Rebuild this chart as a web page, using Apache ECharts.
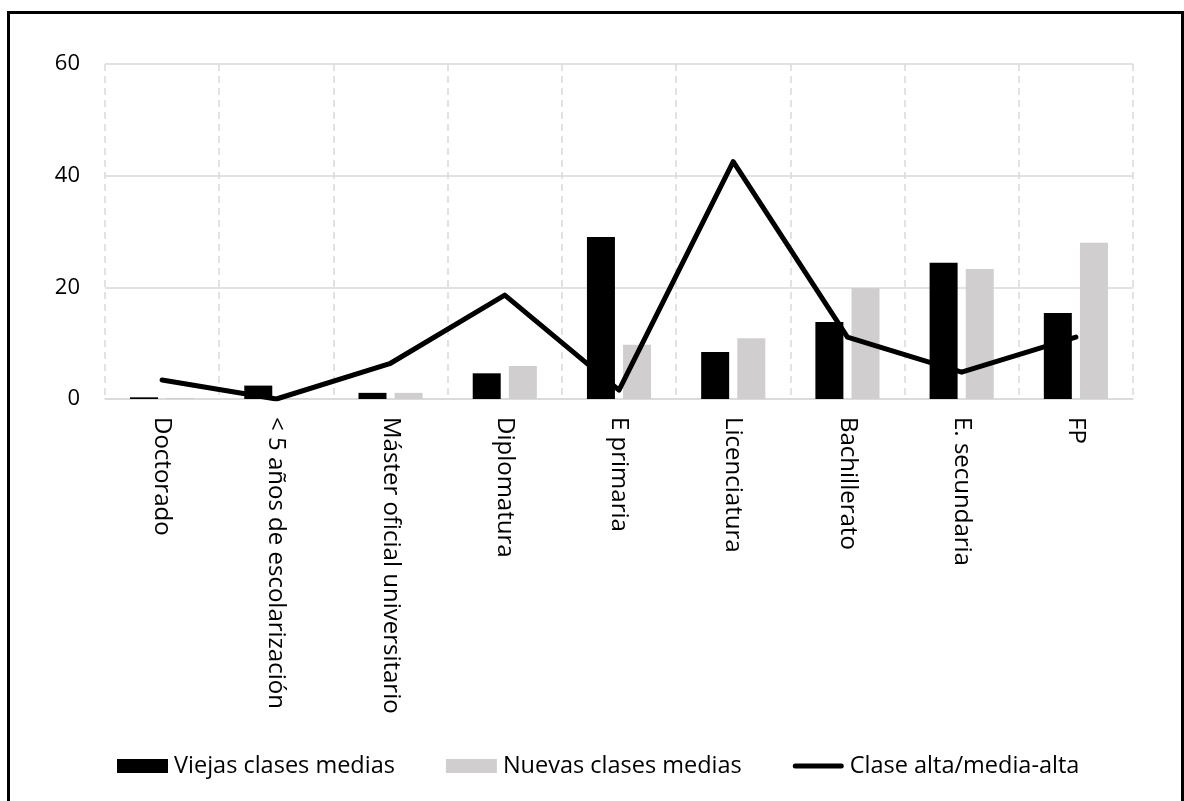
<!DOCTYPE html>
<html>
<head>
<meta charset="utf-8">
<script src="https://cdn.jsdelivr.net/npm/echarts@6/dist/echarts.min.js"></script>
<style>
html,body{margin:0;padding:0;background:#fff;}
#chart{position:absolute;left:0;top:0;width:1184px;height:801px;}
#frame{position:absolute;left:7px;top:11px;width:1171px;height:800px;border-left:3px solid #000;border-top:3px solid #000;border-right:3px solid #000;pointer-events:none;box-sizing:content-box;}
</style>
</head>
<body>
<div id="chart"></div>
<div id="frame"></div>
<script>
const categories = ['Doctorado', '< 5 años de escolarización', 'Máster oficial universitario', 'Diplomatura', 'E primaria', 'Licenciatura', 'Bachillerato', 'E. secundaria', 'FP'];
const viejas = [0.3, 2.4, 1.1, 4.6, 29.0, 8.4, 13.8, 24.4, 15.4];
const nuevas = [0.2, 0.1, 1.1, 5.9, 9.7, 10.9, 19.9, 23.3, 28.0];
const altaMedia = [3.4, 0.0, 6.4, 18.6, 1.6, 42.5, 11.1, 4.8, 11.1];
const seriesNames = ['Viejas clases medias', 'Nuevas clases medias', 'Clase alta/media-alta'];
const yTicks = [0, 20, 40, 60];

const FONT = '"Open Sans"';
const chart = echarts.init(document.getElementById('chart'));
chart.setOption({
  animation: false,
  textStyle: { fontFamily: FONT },
  grid: { left: 105, right: 51, top: 64, bottom: 402, containLabel: false },
  legend: {
    left: 112, top: 749,
    itemWidth: 51, itemHeight: 14, itemGap: 51,
    textStyle: { fontFamily: FONT, fontSize: 23.5, color: '#000', padding: [0, 0, 0, 1] },
    data: [
      { name: seriesNames[0], icon: 'rect' },
      { name: seriesNames[1], icon: 'rect' },
      { name: seriesNames[2], icon: 'path://M2.5,0 L48.5,0 A2.5,2.5 0 0 1 48.5,5 L2.5,5 A2.5,2.5 0 0 1 2.5,0 Z' }
    ]
  },
  xAxis: {
    type: 'category',
    data: categories,
    boundaryGap: true,
    axisLine: { show: true, lineStyle: { color: '#d9d9d9', width: 1.5 } },
    axisTick: { show: false },
    splitLine: { show: true, lineStyle: { color: '#d9d9d9', width: 1.5, type: [7, 5] } },
    axisLabel: { rotate: -90, margin: 18, fontSize: 24, color: '#000', fontFamily: FONT, interval: 0 }
  },
  yAxis: {
    type: 'value',
    min: yTicks[0], max: yTicks[yTicks.length - 1], interval: 20,
    axisLine: { show: false },
    axisTick: { show: false },
    splitLine: { show: true, lineStyle: { color: '#d9d9d9', width: 1.5 } },
    axisLabel: { margin: 25, fontSize: 22, color: '#000', fontFamily: FONT }
  },
  series: [
    { name: seriesNames[0], type: 'bar', data: viejas, barWidth: 28, barGap: '29%', itemStyle: { color: '#000000' } },
    { name: seriesNames[1], type: 'bar', data: nuevas, barWidth: 28, itemStyle: { color: '#d0cece' } },
    { name: seriesNames[2], type: 'line', data: altaMedia, showSymbol: false, symbol: 'none',
      lineStyle: { color: '#000', width: 5, cap: 'round', join: 'round' }, itemStyle: { color: '#000' }, z: 5 }
  ]
});
</script>
</body>
</html>
